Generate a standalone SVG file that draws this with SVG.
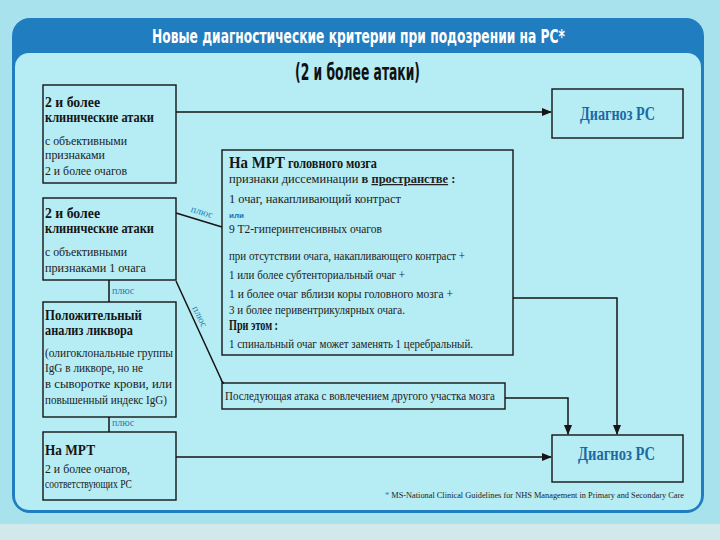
<svg xmlns="http://www.w3.org/2000/svg" width="720" height="540" viewBox="0 0 720 540">
<defs>
<style>
.bx{fill:none;stroke:#151515;stroke-width:1.4}
.ln{fill:none;stroke:#151515;stroke-width:1.5}
.h{font-family:"Liberation Serif",serif;font-weight:bold;font-size:14px;fill:#151515}
.t{font-family:"Liberation Serif",serif;font-size:12.5px;fill:#222}
.pl{font-family:"Liberation Serif",serif;font-size:10px;fill:#1f7fb5}
.dx{font-family:"Liberation Serif",serif;font-weight:bold;font-size:18px;fill:#1d6aa3}
.ttl{font-family:"DejaVu Sans Condensed","DejaVu Sans",sans-serif;font-stretch:condensed;font-weight:bold}
</style>
<marker id="ar" markerWidth="10" markerHeight="8" refX="9" refY="4" orient="auto" markerUnits="userSpaceOnUse">
<path d="M0,0 L10,4 L0,8 Z" fill="#151515"/>
</marker>
</defs>
<rect width="720" height="540" fill="#a8e2ec"/>
<rect y="524" width="720" height="16" fill="#d2e9ec"/>
<rect x="12" y="18" width="692" height="495" rx="18" fill="#1f7dc0"/>
<rect x="15" y="53" width="686" height="457" rx="14" fill="#b6ecf3"/>
<text class="ttl" transform="translate(152 43) scale(1 1.3)" x="0" y="0" font-size="15" fill="#fff" textLength="413" lengthAdjust="spacingAndGlyphs">Новые диагностические критерии при подозрении на РС*</text>
<text class="ttl" transform="translate(295 80) scale(1 1.5)" x="0" y="0" font-size="15" fill="#111" textLength="125" lengthAdjust="spacingAndGlyphs">(2 и более атаки)</text>

<g id="connectors">
<path class="ln" d="M176 112 H551" marker-end="url(#ar)"/>
<path class="ln" d="M176 213 L222 227"/>
<path class="ln" d="M109 280 V302"/>
<path class="ln" d="M176 281 L221 379 Q222 383 224 383"/>
<path class="ln" d="M109 417 V432"/>
<path class="ln" d="M513 298 H617 V434" marker-end="url(#ar)"/>
<path class="ln" d="M505 398 H568 V434" marker-end="url(#ar)"/>
<path class="ln" d="M176 457 H551" marker-end="url(#ar)"/>
<text class="pl" x="201" y="215" text-anchor="middle" transform="rotate(17 201 215)">плюс</text>
<text class="pl" x="112" y="294">плюс</text>
<text class="pl" x="197" y="318" text-anchor="middle" transform="rotate(64 197 318)">плюс</text>
<text class="pl" x="112" y="426">плюс</text>
</g>

<g id="box1">
<rect class="bx" x="43" y="85" width="133" height="98"/>
<text class="h" x="45" y="107" textLength="55" lengthAdjust="spacingAndGlyphs">2 и более</text>
<text class="h" x="45" y="122" textLength="109" lengthAdjust="spacingAndGlyphs">клинические атаки</text>
<text class="t" x="45" y="145" textLength="82" lengthAdjust="spacingAndGlyphs">с объективными</text>
<text class="t" x="45" y="159" textLength="60" lengthAdjust="spacingAndGlyphs">признаками</text>
<text class="t" x="45" y="175" textLength="82" lengthAdjust="spacingAndGlyphs">2 и более очагов</text>
</g>

<g id="box2">
<rect class="bx" x="43" y="198" width="133" height="82"/>
<text class="h" x="45" y="218" textLength="55" lengthAdjust="spacingAndGlyphs">2 и более</text>
<text class="h" x="45" y="233" textLength="109" lengthAdjust="spacingAndGlyphs">клинические атаки</text>
<text class="t" x="45" y="256" textLength="82" lengthAdjust="spacingAndGlyphs">с объективными</text>
<text class="t" x="45" y="272" textLength="101" lengthAdjust="spacingAndGlyphs">признаками 1 очага</text>
</g>

<g id="box3">
<rect class="bx" x="43" y="302" width="133" height="115"/>
<text class="h" x="45" y="320" textLength="97" lengthAdjust="spacingAndGlyphs">Положительный</text>
<text class="h" x="45" y="335" textLength="88" lengthAdjust="spacingAndGlyphs">анализ ликвора</text>
<text class="t" x="45" y="357" textLength="128" lengthAdjust="spacingAndGlyphs">(олигоклональные группы</text>
<text class="t" x="45" y="372" textLength="98" lengthAdjust="spacingAndGlyphs">IgG в ликворе, но не</text>
<text class="t" x="45" y="388" textLength="127" lengthAdjust="spacingAndGlyphs">в сыворотке крови, или</text>
<text class="t" x="45" y="404" textLength="122" lengthAdjust="spacingAndGlyphs">повышенный индекс IgG)</text>
</g>

<g id="box4">
<rect class="bx" x="43" y="432" width="133" height="68"/>
<text class="h" x="45" y="455" font-size="17" textLength="50" lengthAdjust="spacingAndGlyphs">На МРТ</text>
<text class="t" x="45" y="473" textLength="85" lengthAdjust="spacingAndGlyphs">2 и более очагов,</text>
<text class="t" x="45" y="488" textLength="87" lengthAdjust="spacingAndGlyphs">соответствующих РС</text>
</g>

<g id="mri">
<rect class="bx" x="222" y="150" width="291" height="205"/>
<text class="h" x="229" y="168" font-size="13" textLength="148" lengthAdjust="spacingAndGlyphs"><tspan font-size="17">На  МРТ</tspan> головного мозга</text>
<text class="t" x="229" y="183" font-size="12.5">признаки диссеминации <tspan font-weight="bold">в <tspan text-decoration="underline">пространстве</tspan> :</tspan></text>
<text class="t" x="229" y="203" textLength="172" lengthAdjust="spacingAndGlyphs">1 очаг, накапливающий контраст</text>
<text x="229" y="218" font-family="Liberation Sans, sans-serif" font-weight="bold" font-size="8" fill="#1f6fb5">или</text>
<text class="t" x="229" y="233" textLength="153" lengthAdjust="spacingAndGlyphs">9 T2-гиперинтенсивных очагов</text>
<text class="t" x="229" y="260" textLength="236" lengthAdjust="spacingAndGlyphs">при отсутствии очага, накапливающего контраст +</text>
<text class="t" x="229" y="279" textLength="176" lengthAdjust="spacingAndGlyphs">1 или более субтенториальный очаг +</text>
<text class="t" x="229" y="298" textLength="224" lengthAdjust="spacingAndGlyphs">1 и более очаг вблизи коры головного мозга +</text>
<text class="t" x="229" y="314" textLength="176" lengthAdjust="spacingAndGlyphs">3 и более перивентрикулярных очага.</text>
<text class="h" x="229" y="330" font-size="12.5" textLength="49" lengthAdjust="spacingAndGlyphs">При этом :</text>
<text class="t" x="229" y="348" textLength="244" lengthAdjust="spacingAndGlyphs">1 спинальный очаг может заменять 1 церебральный.</text>
</g>

<g id="next-attack">
<rect class="bx" x="222" y="383" width="283" height="26"/>
<text class="t" x="225" y="400" textLength="270" lengthAdjust="spacingAndGlyphs">Последующая атака с вовлечением другого участка мозга</text>
</g>

<g id="dx1">
<rect class="bx" x="552" y="89" width="131" height="49"/>
<text class="dx" x="580" y="120" textLength="75" lengthAdjust="spacingAndGlyphs">Диагноз РС</text>
</g>

<g id="dx2">
<rect class="bx" x="552" y="435" width="131" height="47"/>
<text class="dx" x="578" y="460" textLength="77" lengthAdjust="spacingAndGlyphs">Диагноз РС</text>
</g>

<text x="385" y="498" font-family="Liberation Serif, serif" font-size="8.5" fill="#222" textLength="299" lengthAdjust="spacingAndGlyphs"><tspan fill="#1f7fb5">*</tspan> MS-National Clinical Guidelines for NHS Management in Primary and Secondary Care</text>
</svg>
